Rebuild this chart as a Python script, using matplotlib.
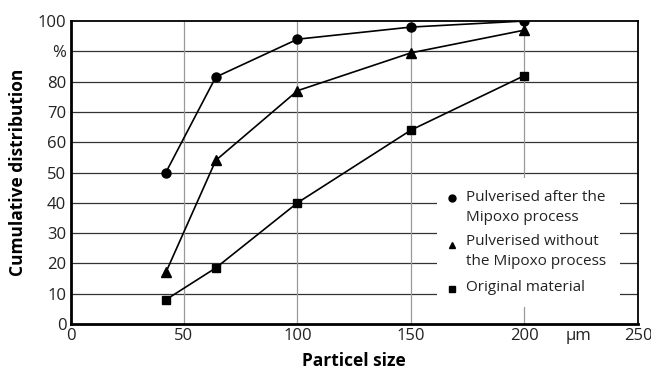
import matplotlib.pyplot as plt
from matplotlib.patches import Rectangle

plt.rcParams['font.family'] = ['Open Sans', 'DejaVu Sans']

# particle size (um) and cumulative distribution (%)
size = [42, 64, 100, 150, 200]
after_mipoxo = [50, 81.5, 94, 98, 100]
without_mipoxo = [17, 54, 77, 89.5, 97]
original = [8, 18.5, 40, 64, 82]

labels = [['Pulverised after the', 'Mipoxo process'],
          ['Pulverised without', 'the Mipoxo process'],
          ['Original material']]
markers = ['o', '^', 's']
y_ticks = list(range(0, 101, 10))
y_ticklabels = ['0', '10', '20', '30', '40', '50', '60', '70', '80', '%', '100']
x_ticks = [0, 50, 100, 150, 200, 250]
unit_pos = 224

fig = plt.figure(figsize=(6.51, 3.78), dpi=100)
ax = fig.add_axes([0.1083, 0.1429, 0.8717, 0.8015])

for y in y_ticks[1:-1]:
    ax.axhline(y, color='#333333', lw=0.9, zorder=1)
for x in x_ticks[1:-1]:
    ax.axvline(x, color='#999999', lw=0.9, zorder=1)

ax.plot(size, after_mipoxo, 'k-', marker='o', ms=6.5, lw=1.2, zorder=3)
ax.plot(size, without_mipoxo, 'k-', marker='^', ms=6.5, lw=1.2, zorder=3)
ax.plot(size, original, 'k-', marker='s', ms=6, lw=1.2, zorder=3)

ax.set_xlim(0, 250)
ax.set_ylim(0, 100)
ax.set_xticks(x_ticks)
ax.set_xticks([unit_pos], ['μm'], minor=True)
ax.set_yticks(y_ticks)
ax.set_yticklabels(y_ticklabels)
ax.tick_params(which='both', length=0, labelsize=12, colors='#222222', pad=3)

for side in ['left', 'bottom']:
    ax.spines[side].set_linewidth(2)
for side in ['top', 'right']:
    ax.spines[side].set_linewidth(1.3)

ax.set_xlabel('Particel size', fontsize=12.5, fontweight='bold', labelpad=6)
ax.set_ylabel('Cumulative distribution', fontsize=12.5, fontweight='bold', labelpad=8)

# legend drawn by hand: marker sits beside the first line of each entry
ax.add_patch(Rectangle((0.646, 0.056), 0.322, 0.426, transform=ax.transAxes,
                       facecolor='white', edgecolor='none', zorder=2))
marker_y = [0.416, 0.261, 0.116]
line_y = [[0.419, 0.353], [0.271, 0.205], [0.119]]
for m, my, lines, ly in zip(markers, marker_y, labels, line_y):
    ax.plot([0.672], [my], ls='', marker=m, color='k', ms=5, transform=ax.transAxes, zorder=4)
    for txt, ty in zip(lines, ly):
        ax.text(0.697, ty, txt, transform=ax.transAxes, fontsize=11, color='#222222',
                ha='left', va='center', zorder=4)

fig.savefig('out.png', dpi=100)
